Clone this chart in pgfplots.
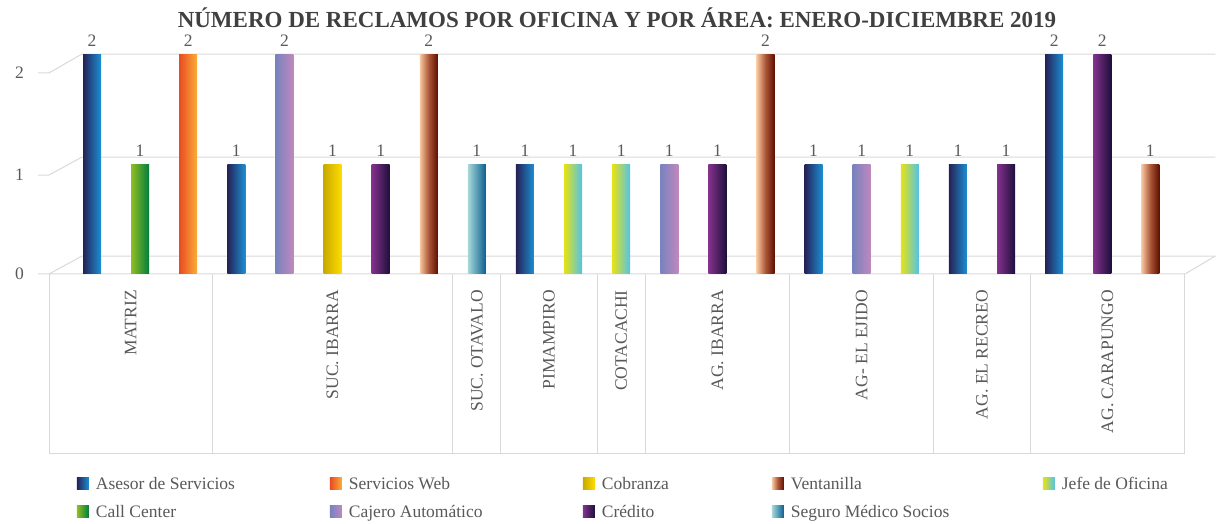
\documentclass[border=0pt]{standalone}
\usepackage{fontspec}
\setmainfont{Liberation Serif}
\usepackage{pgfplots}
\pgfplotsset{compat=1.18}
\definecolor{txt}{RGB}{89,89,89}
\definecolor{ttl}{RGB}{64,64,64}
\definecolor{gridc}{RGB}{217,217,217}
\definecolor{aseL}{RGB}{38,34,86}\definecolor{aseR}{RGB}{27,143,212}
\definecolor{webL}{RGB}{232,76,34}\definecolor{webR}{RGB}{250,175,55}
\definecolor{cobL}{RGB}{200,170,0}\definecolor{cobR}{RGB}{255,220,0}
\definecolor{venL}{RGB}{248,200,160}\definecolor{venM}{RGB}{170,85,55}\definecolor{venR}{RGB}{95,15,0}
\definecolor{jefL}{RGB}{232,226,20}\definecolor{jefR}{RGB}{80,195,235}
\definecolor{calL}{RGB}{145,190,35}\definecolor{calR}{RGB}{0,125,60}
\definecolor{cajL}{RGB}{120,130,190}\definecolor{cajR}{RGB}{192,136,190}
\definecolor{creL}{RGB}{132,50,140}\definecolor{creR}{RGB}{30,15,60}
\definecolor{segL}{RGB}{168,216,216}\definecolor{segR}{RGB}{10,95,145}
\pgfplotsset{
  barsty/.style 2 args={ybar, bar width=18pt, bar shift=0pt, draw=none, left color=#1, right color=#2,
    legend image code/.code={\fill[left color=#1, right color=#2, draw=none] (0pt,0pt) rectangle (12pt,12pt);}},
  ase/.style={barsty={aseL}{aseR}},
  web/.style={barsty={webL}{webR}},
  cob/.style={barsty={cobL}{cobR}},
  ven/.style={ybar, bar width=18pt, bar shift=0pt, draw=none, left color=venL, right color=venR, middle color=venM,
    legend image code/.code={\fill[left color=venL, right color=venR, middle color=venM, draw=none] (0pt,0pt) rectangle (12pt,12pt);}},
  jef/.style={barsty={jefL}{jefR}},
  cal/.style={barsty={calL}{calR}},
  caj/.style={barsty={cajL}{cajR}},
  cre/.style={barsty={creL}{creR}},
  seg/.style={barsty={segL}{segR}},
}
\begin{document}
\begin{tikzpicture}
\useasboundingbox (0,0) rectangle (1218pt,524pt);
\node[font=\bfseries\fontsize{23}{27}\selectfont, text=ttl] at (617pt,506pt) {NÚMERO DE RECLAMOS POR OFICINA Y POR ÁREA: ENERO-DICIEMBRE 2019};
\begin{axis}[
  at={(49pt,250pt)}, anchor=south west,
  scale only axis, width=1136pt, height=240.9pt,
  xmin=-0.894, xmax=22.72, ymin=0, ymax=2.2,
  clip=false,
  axis line style={draw=none},
  major tick length=0pt,
  /pgf/number format/assume math mode=true,
  ytick={0,0.904,1.836}, yticklabels={0,1,2},
  yticklabel style={anchor=east, inner sep=0pt, xshift=-25pt, font=\fontsize{17.5}{20}\selectfont, text=txt},
  xtick={0.803,5,8,9.5,11,13,16,18.5,21.11},
  xticklabels={MATRIZ,SUC. IBARRA,SUC. OTAVALO,PIMAMPIRO,COTACACHI,AG. IBARRA,AG- EL EJIDO,AG. EL RECREO,AG. CARAPUNGO},
  xticklabel style={rotate=90, anchor=east, inner sep=0pt, font=\fontsize{17.5}{20}\selectfont, text=txt},
  xticklabel shift=16pt,
  nodes near coords,
  every node near coord/.append style={font=\fontsize{17.5}{20}\selectfont, text=txt, anchor=south, inner sep=0pt, yshift=8pt},
  legend columns=5,
  legend style={draw=none, fill=none, inner sep=0pt, outer sep=0pt,
    at={(axis description cs:0.0246,-0.8468)}, anchor=north west,
    row sep=12pt,
    nodes={inner sep=0pt, anchor=base west, text height=12pt, text depth=4pt, font=\fontsize{17.5}{20}\selectfont, text=txt},
    /tikz/every odd column/.append style={column sep=7pt},
    /tikz/every even column/.append style={column sep=0pt}},
]
% grid (front tick, slant, back wall)
\draw[gridc, line width=1pt] (axis cs:-1.123,1.836) -- (axis cs:-0.894,1.836) -- (axis cs:-0.208,2.009) -- (axis cs:23.35,2.009);
\draw[gridc, line width=1pt] (axis cs:-1.123,0.904) -- (axis cs:-0.894,0.904) -- (axis cs:-0.208,1.068) -- (axis cs:23.35,1.068);
\draw[gridc, line width=1pt] (axis cs:-0.894,0) -- (axis cs:-0.208,0.164) -- (axis cs:23.35,0.164);
\draw[gridc, line width=1pt] (axis cs:-1.123,0) -- (axis cs:22.72,0) -- (axis cs:23.35,0.164);
% category table
\draw[gridc, line width=1pt] (axis cs:-0.894,0) -- (axis cs:-0.894,-1.635) -- (axis cs:22.72,-1.635) -- (axis cs:22.72,0);
\draw[gridc, line width=1pt] (axis cs:2.5,0) -- (axis cs:2.5,-1.635);
\draw[gridc, line width=1pt] (axis cs:7.5,0) -- (axis cs:7.5,-1.635);
\draw[gridc, line width=1pt] (axis cs:8.5,0) -- (axis cs:8.5,-1.635);
\draw[gridc, line width=1pt] (axis cs:10.5,0) -- (axis cs:10.5,-1.635);
\draw[gridc, line width=1pt] (axis cs:11.5,0) -- (axis cs:11.5,-1.635);
\draw[gridc, line width=1pt] (axis cs:14.5,0) -- (axis cs:14.5,-1.635);
\draw[gridc, line width=1pt] (axis cs:17.5,0) -- (axis cs:17.5,-1.635);
\draw[gridc, line width=1pt] (axis cs:19.5,0) -- (axis cs:19.5,-1.635);
% one plot per bar so that each bar gets its own gradient
% legend row 1
\addplot[ase] coordinates {(0,2)};
\addlegendentry{\makebox[234pt][l]{Asesor de Servicios}}
\addplot[web] coordinates {(2,2)};
\addlegendentry{\makebox[234pt][l]{Servicios Web}}
\addplot[cob] coordinates {(5,1)};
\addlegendentry{\makebox[170pt][l]{Cobranza}}
\addplot[ven] coordinates {(7,2)};
\addlegendentry{\makebox[252pt][l]{Ventanilla}}
\addplot[jef] coordinates {(10,1)};
\addlegendentry{\makebox[120pt][l]{Jefe de Oficina}}
% legend row 2
\addplot[cal] coordinates {(1,1)};
\addlegendentry{\makebox[234pt][l]{Call Center}}
\addplot[caj] coordinates {(4,2)};
\addlegendentry{\makebox[234pt][l]{Cajero Automático}}
\addplot[cre] coordinates {(6,1)};
\addlegendentry{\makebox[170pt][l]{Crédito}}
\addplot[seg] coordinates {(8,1)};
\addlegendentry{\makebox[252pt][l]{Seguro Médico Socios}}
% remaining bars
\addplot[ase, forget plot] coordinates {(3,1)};
\addplot[ase, forget plot] coordinates {(9,1)};
\addplot[ase, forget plot] coordinates {(15,1)};
\addplot[ase, forget plot] coordinates {(18,1)};
\addplot[ase, forget plot] coordinates {(20,2)};
\addplot[caj, forget plot] coordinates {(12,1)};
\addplot[caj, forget plot] coordinates {(16,1)};
\addplot[cre, forget plot] coordinates {(13,1)};
\addplot[cre, forget plot] coordinates {(19,1)};
\addplot[cre, forget plot] coordinates {(21,2)};
\addplot[ven, forget plot] coordinates {(14,2)};
\addplot[ven, forget plot] coordinates {(22,1)};
\addplot[jef, forget plot] coordinates {(11,1)};
\addplot[jef, forget plot] coordinates {(17,1)};
\end{axis}
\end{tikzpicture}
\end{document}
